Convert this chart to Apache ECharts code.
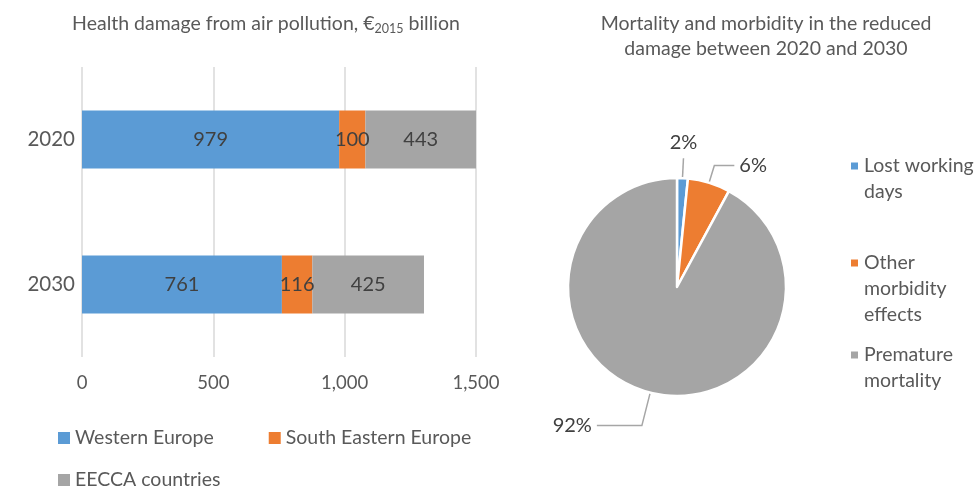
<!DOCTYPE html>
<html>
<head>
<meta charset="utf-8">
<script src="https://cdn.jsdelivr.net/npm/echarts@6/dist/echarts.min.js"></script>
<style>
  html, body { margin: 0; padding: 0; background: #fff; }
  #main { width: 978px; height: 488px; }
</style>
</head>
<body>
<div id="main"></div>
<script>
    // bar chart data (€2015 billion)
    var years = ['2020', '2030'];
    var westernEurope = [979, 761];
    var southEastern = [100, 116];
    var eecca = [443, 425];
    var xTicks = [0, 500, 1000, 1500];

    // pie data (share of reduced damage, %)
    var pieNames = ['Lost working days', 'Other morbidity effects', 'Premature mortality'];
    var pieValues = [1.6, 6.3, 92.1];

    var colors = ['#5B9BD5', '#ED7D31', '#A5A5A5'];
    var font = 'Lato, "Open Sans", sans-serif';
    var txt = '#595959';

    var chart = echarts.init(document.getElementById('main'));

    function barSeries (name, data, color) {
        return {
            name: name,
            type: 'bar',
            stack: 'total',
            data: data,
            barWidth: 58,
            itemStyle: { color: color },
            label: {
                show: true,
                position: 'inside',
                color: '#404040',
                fontSize: 20,
                fontFamily: font
            }
        };
    }

    // legend text is wrapped like in the original
    var legendNames = ['Lost working\ndays', 'Other\nmorbidity\neffects', 'Premature\nmortality'];
    var lineH = 26;

    // square icon sitting on the first text line of a multi-line legend item
    function topIcon (lines) {
        var h = lines * lineH;
        var y = (lineH - 9) / 2;
        return 'path://M0,0h0.01v0.01h-0.01z M0,' + (h - 0.01) + 'h0.01v0.01h-0.01z M0,' + y + 'h9v9h-9z';
    }

    function pieLegend (i, top) {
        var lines = legendNames[i].split('\n').length;
        return {
            data: [pieNames[i]],
            left: 849,
            top: top,
            padding: 0,
            itemWidth: 9,
            itemHeight: lines * lineH,
            icon: topIcon(lines),
            formatter: function () { return legendNames[i]; },
            textStyle: { color: txt, fontSize: 19.5, lineHeight: lineH }
        };
    }

    const options = {
        textStyle: { fontFamily: font },
        title: [
            {
                text: '{a|Health damage from air pollution, €}{s|2015}{a| billion}',
                left: 261,
                top: 7,
                textAlign: 'center',
                textStyle: {
                    rich: {
                        a: { fontSize: 19.5, fontWeight: 'normal', color: txt, fontFamily: font },
                        s: { fontSize: 12.5, fontWeight: 'normal', color: txt, fontFamily: font, padding: [10, 0, 0, 0] }
                    }
                }
            },
            {
                text: 'Mortality and morbidity in the reduced\ndamage between 2020 and 2030',
                left: 761,
                top: 6,
                textAlign: 'center',
                textStyle: { fontSize: 19.5, fontWeight: 'normal', color: txt, fontFamily: font, lineHeight: 25 }
            }
        ],
        grid: { left: 82, right: 502, top: 67, bottom: 131 },
        xAxis: {
            type: 'value',
            min: 0,
            max: 1500,
            interval: 500,
            axisLine: { show: false },
            axisTick: { show: false },
            axisLabel: {
                color: txt,
                fontSize: 18.5,
                margin: 17,
                formatter: function (v) { return xTicks.indexOf(v) >= 0 ? v.toLocaleString('en-US') : ''; }
            },
            splitLine: { lineStyle: { color: '#D9D9D9', width: 1.5 } }
        },
        yAxis: {
            type: 'category',
            inverse: true,
            data: years,
            axisLine: { show: false },
            axisTick: { show: false },
            axisLabel: { color: txt, fontSize: 20.5, margin: 7 }
        },
        legend: [
            {
                data: ['Western Europe', 'South Eastern Europe'],
                left: 58,
                top: 428,
                padding: 0,
                itemWidth: 12,
                itemHeight: 12,
                itemGap: 55,
                icon: 'rect',
                textStyle: { color: txt, fontSize: 19.5 }
            },
            {
                data: ['EECCA countries'],
                left: 58,
                top: 470,
                padding: 0,
                itemWidth: 12,
                itemHeight: 12,
                icon: 'rect',
                textStyle: { color: txt, fontSize: 19.5 }
            },
            pieLegend(0, 152),
            pieLegend(1, 249),
            pieLegend(2, 341)
        ],
        series: [
            barSeries('Western Europe', westernEurope, colors[0]),
            barSeries('South Eastern Europe', southEastern, colors[1]),
            barSeries('EECCA countries', eecca, colors[2]),
            {
                type: 'pie',
                center: [677, 287],
                radius: 109,
                startAngle: 90,
                clockwise: true,
                avoidLabelOverlap: false,
                data: pieNames.map(function (n, i) {
                    var item = { name: n, value: pieValues[i], itemStyle: { color: colors[i] } };
                    if (i === 0) {
                        item.labelLine = { length: 20, length2: 0 };
                        item.label = { distanceToLabelLine: 0 };
                    } else if (i === 1) {
                        item.labelLine = { length: 18, length2: 20 };
                    } else {
                        item.labelLine = { length: 34, length2: 45 };
                    }
                    return item;
                }),
                itemStyle: { borderColor: '#fff', borderWidth: 2.5 },
                label: {
                    show: true,
                    position: 'outside',
                    color: '#404040',
                    fontSize: 20,
                    fontFamily: font,
                    formatter: function (p) { return Math.round(p.value) + '%'; }
                },
                labelLine: {
                    show: true,
                    lineStyle: { color: '#A6A6A6', width: 1.5 }
                },
                labelLayout: function (params) {
                    if (params.dataIndex === 0) {
                        return { align: 'center', verticalAlign: 'bottom', dy: -6 };
                    }
                    return {};
                }
            }
        ]
    };

    chart.setOption(options, true);
</script>
</body>
</html>
